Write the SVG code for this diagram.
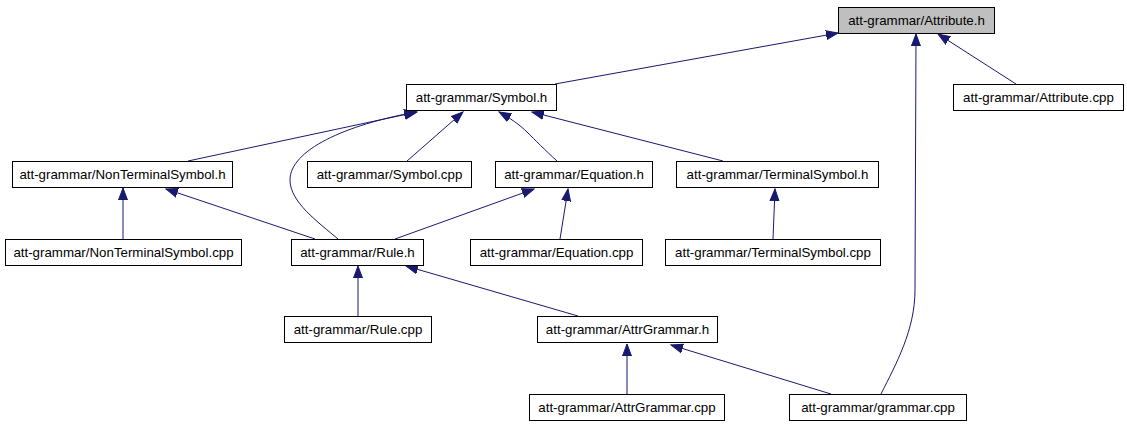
<svg xmlns="http://www.w3.org/2000/svg" width="1127" height="427" viewBox="0 0 1127 427">
<style>
.box{fill:#ffffff;stroke:#000000;stroke-width:1}
.root{fill:#bfbfbf;stroke:#000000;stroke-width:1}
text{font-family:"Liberation Sans",Arial,sans-serif;font-size:13.3px;fill:#000000;text-anchor:middle}
.e{fill:none;stroke:#191970;stroke-width:1;marker-end:url(#ah)}
</style>
<defs>
<marker id="ah" markerUnits="userSpaceOnUse" markerWidth="13" markerHeight="11" viewBox="0 -5.5 13 11" refX="12" refY="0" orient="auto">
<path d="M0,-4.5 L12,0 L0,4.5 z" fill="#191970" stroke="#191970" stroke-width="1"/>
</marker>
</defs>
<rect width="1127" height="427" fill="#ffffff"/>
<g id="connectors">
<path class="e" d="M555,84 L838,33"/>
<path class="e" d="M1016,84 L938,34"/>
<path class="e" d="M881,394 C896,364 915,330 915,290 L916,34"/>
<path class="e" d="M188,161 L417,112"/>
<path class="e" d="M338,239 C318,222 290,202 290,180 C290,150 345,125 416,112"/>
<path class="e" d="M407,161 L463,112"/>
<path class="e" d="M557,161 C545,150 535,140 527,132 C520,125 510,118 499,112"/>
<path class="e" d="M723,161 L532,112"/>
<path class="e" d="M123,239 L123,188"/>
<path class="e" d="M315,239 L166,189"/>
<path class="e" d="M395,239 L534,189"/>
<path class="e" d="M560,239 L568,189"/>
<path class="e" d="M773,239 L775,189"/>
<path class="e" d="M358,316 L358,266"/>
<path class="e" d="M578,316 L406,266"/>
<path class="e" d="M627,394 L627,344"/>
<path class="e" d="M831,394 L671,345"/>
</g>
<g id="attribute_h"><rect class="root" x="838.5" y="7.5" width="156" height="26"/><text x="916.5" y="25">att-grammar/Attribute.h</text></g>
<g id="attribute_cpp"><rect class="box" x="953.5" y="84.5" width="170" height="26"/><text x="1038.5" y="102">att-grammar/Attribute.cpp</text></g>
<g id="symbol_h"><rect class="box" x="406.5" y="84.5" width="150" height="26"/><text x="481.5" y="102">att-grammar/Symbol.h</text></g>
<g id="nonterminalsymbol_h"><rect class="box" x="12.5" y="161.5" width="220" height="26"/><text x="122.5" y="179">att-grammar/NonTerminalSymbol.h</text></g>
<g id="symbol_cpp"><rect class="box" x="307.5" y="161.5" width="164" height="26"/><text x="389.5" y="179">att-grammar/Symbol.cpp</text></g>
<g id="equation_h"><rect class="box" x="495.5" y="161.5" width="157" height="26"/><text x="574" y="179">att-grammar/Equation.h</text></g>
<g id="terminalsymbol_h"><rect class="box" x="676.5" y="161.5" width="202" height="26"/><text x="777.5" y="179">att-grammar/TerminalSymbol.h</text></g>
<g id="nonterminalsymbol_cpp"><rect class="box" x="5.5" y="239.5" width="236" height="26"/><text x="123.5" y="257">att-grammar/NonTerminalSymbol.cpp</text></g>
<g id="rule_h"><rect class="box" x="291.5" y="239.5" width="132" height="26"/><text x="357.5" y="257">att-grammar/Rule.h</text></g>
<g id="equation_cpp"><rect class="box" x="470.5" y="239.5" width="172" height="26"/><text x="556.5" y="257">att-grammar/Equation.cpp</text></g>
<g id="terminalsymbol_cpp"><rect class="box" x="665.5" y="239.5" width="215" height="26"/><text x="773" y="257">att-grammar/TerminalSymbol.cpp</text></g>
<g id="rule_cpp"><rect class="box" x="284.5" y="316.5" width="147" height="26"/><text x="358" y="334">att-grammar/Rule.cpp</text></g>
<g id="attrgrammar_h"><rect class="box" x="537.5" y="316.5" width="180" height="26"/><text x="627.5" y="334">att-grammar/AttrGrammar.h</text></g>
<g id="attrgrammar_cpp"><rect class="box" x="529.5" y="394.5" width="195" height="26"/><text x="627" y="412">att-grammar/AttrGrammar.cpp</text></g>
<g id="grammar_cpp"><rect class="box" x="789.5" y="394.5" width="177" height="26"/><text x="878" y="412">att-grammar/grammar.cpp</text></g>
</svg>
